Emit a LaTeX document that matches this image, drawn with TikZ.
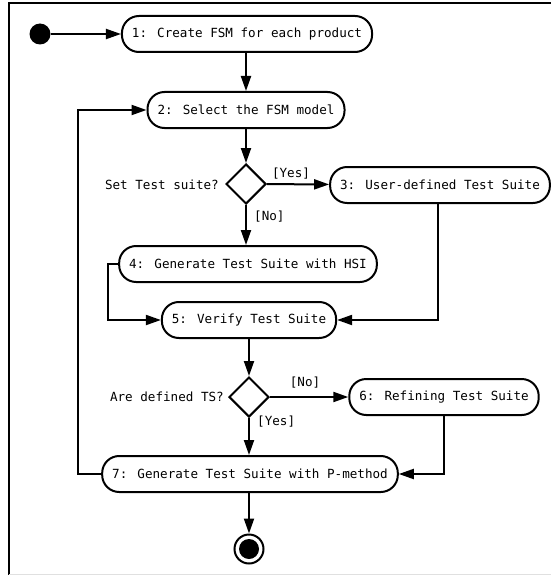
\documentclass[tikz,border=0pt]{standalone}
\usepackage{fontspec}
\setmainfont{DejaVu Sans Mono}
\usetikzlibrary{arrows.meta,shapes.geometric}
\begin{document}
\begin{tikzpicture}[x=1pt,y=-1pt,
  every node/.style={font=\fontsize{12.6}{15}\selectfont},
  act/.style={draw,line width=2pt,rectangle,rounded corners=17pt,minimum height=36pt,inner xsep=10pt,inner ysep=0pt},
  dec/.style={draw,line width=2pt,diamond,minimum width=40pt,minimum height=40pt,inner sep=0pt},
  flow/.style={line width=2pt,-{Triangle[length=15pt,width=10pt]}},
  lbl/.style={inner sep=0pt}]
\useasboundingbox (0,0) rectangle (551,575);
% frame
\draw[line width=2pt] (8.5,575) -- (8.5,3.5) -- (551,3.5);
\draw[line width=0.6pt,black!12] (8.5,574.5) -- (551,574.5);
% nodes
\node[circle,fill=black,minimum size=21pt,inner sep=0pt] (init) at (40,34) {};
\node[act] (n1) at (247,34) {1: Create FSM for each product};
\node[act] (n2) at (246,110) {2: Select the FSM model};
\node[dec] (d1) at (246,184) {};
\node[act] (n3) at (440,185) {3: User-defined Test Suite};
\node[act] (n4) at (248,264) {4: Generate Test Suite with HSI};
\node[act] (n5) at (249,320) {5: Verify Test Suite};
\node[dec] (d2) at (249,397) {};
\node[act] (n6) at (444,397) {6: Refining Test Suite};
\node[act] (n7) at (250,474) {7: Generate Test Suite with P-method};
\node[circle,draw,line width=2pt,minimum size=29pt,inner sep=0pt] (fin) at (249,549) {};
\node[circle,fill=black,minimum size=20pt,inner sep=0pt] (finin) at (fin.center) {};
% labels
\node[lbl,anchor=east] (l1) at (219,185) {Set Test suite?};
\node[lbl] (l2) at (291,174) {[Yes]};
\node[lbl,anchor=west] (l3) at (254,217) {[No]};
\node[lbl,anchor=east] (l4) at (224,397) {Are defined TS?};
\node[lbl] (l5) at (305,383) {[No]};
\node[lbl,anchor=west] (l6) at (257,422) {[Yes]};
% connectors
\draw[flow] (init) -- (n1);
\draw[flow] (n1.south -| n2) -- (n2);
\draw[flow] (n2) -- (d1);
\draw[flow] (d1) -- (n3);
\draw[flow] (d1) -- (d1 |- n4.north);
\draw[flow] (n4.west) -- ++(-10,0) |- (n5.west);
\draw[flow] ([xshift=-2pt]n3.south) |- (n5.east);
\draw[flow] (n5) -- (d2);
\draw[flow] (d2) -- (n6);
\draw[flow] (d2) -- (d2 |- n7.north);
\draw[flow] (n6.south) |- (n7.east);
\draw[flow] (n7.west) -- (78,474) |- (n2.west);
\draw[flow] (n7.south -| fin) -- (fin);
\end{tikzpicture}
\end{document}
